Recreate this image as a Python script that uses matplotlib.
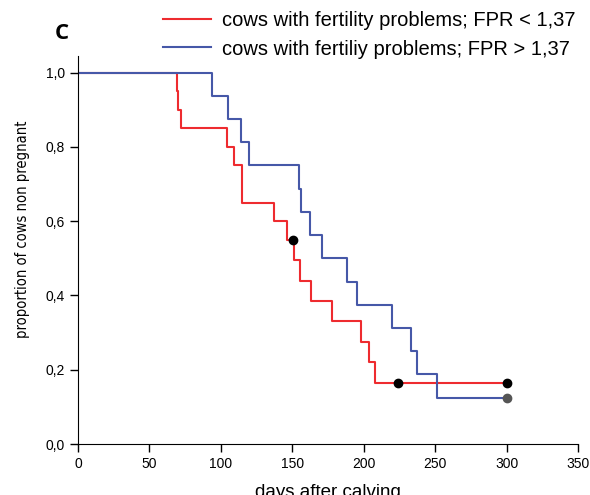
import matplotlib.pyplot as plt
from matplotlib import font_manager

# Kaplan-Meier curves
red_days = [0, 69.4, 70, 72, 104, 109, 115, 137, 146, 151.5, 155.5, 163, 178, 198, 204, 208, 300]
red_prop = [1.0, 0.95, 0.90, 0.85, 0.80, 0.75, 0.65, 0.60, 0.55, 0.495, 0.44, 0.385, 0.33, 0.275, 0.22, 0.165, 0.165]
red_cens_days = [150.5, 224, 300]
red_cens_prop = [0.55, 0.165, 0.165]

blue_days = [0, 94, 105, 114, 120, 154.5, 156, 162.5, 170.5, 188, 195.5, 219.5, 233, 237, 251.5, 300]
blue_prop = [1.0, 0.9375, 0.875, 0.8125, 0.75, 0.6875, 0.625, 0.5625, 0.5, 0.4375, 0.375, 0.3125, 0.25, 0.1875, 0.125, 0.125]
blue_cens_days = [300]
blue_cens_prop = [0.125]

x_ticks = [0, 50, 100, 150, 200, 250, 300, 350]
y_ticks = [0.0, 0.2, 0.4, 0.6, 0.8, 1.0]
y_labels = ["0,0", "0,2", "0,4", "0,6", "0,8", "1,0"]

red = "#ee2b2f"
blue = "#4658a8"

plt.rcParams["font.family"] = ["Liberation Sans", "DejaVu Sans"]

# the y label is set in a narrow face in the original; use one if installed
narrow = None
for f in font_manager.fontManager.ttflist:
    if f.style != "normal" or f.weight not in (400, "normal", "regular"):
        continue
    if "Narrow" in f.name or "Condensed" in f.name or f.stretch in ("condensed", "semi-condensed"):
        narrow = f.fname
        break
if narrow:
    ylab_font = font_manager.FontProperties(fname=narrow, size=10.5)
else:
    ylab_font = font_manager.FontProperties(family="Liberation Sans", size=9)

fig = plt.figure(figsize=(5.9, 4.95), dpi=100)
ax = fig.add_axes([0.132, 0.103, 0.848, 0.784])

ax.step(red_days, red_prop, where="post", color=red, lw=1.5,
        label="cows with fertility problems; FPR < 1,37")
ax.step(blue_days, blue_prop, where="post", color=blue, lw=1.5,
        label="cows with fertiliy problems; FPR > 1,37")
ax.plot(red_cens_days, red_cens_prop, "o", color="black", ms=6, zorder=5)
ax.plot(blue_cens_days, blue_cens_prop, "o", color="#555555", ms=6, zorder=5)

ax.set_xlim(0, 350)
ax.set_ylim(0, 1.045)
ax.set_xticks(x_ticks)
ax.set_yticks(y_ticks)
ax.set_yticklabels(y_labels)
ax.tick_params(labelsize=10, length=6, width=1, direction="out")
for s in ["top", "right"]:
    ax.spines[s].set_visible(False)

ax.set_xlabel("days after calving", fontsize=13.5, labelpad=9)
ax.set_ylabel("proportion of cows non pregnant", fontproperties=ylab_font)
ax.yaxis.set_label_coords(-0.096, 0.554)

fig.legend(loc="upper left", bbox_to_anchor=(0.2695, 0.985), frameon=False,
           fontsize=14.5, handlelength=2.4, handletextpad=0.55,
           labelspacing=0.45, borderaxespad=0, borderpad=0.2)
fig.text(0.093, 0.933, "C", fontsize=16, fontweight="bold", family="Open Sans",
         ha="left", va="center")

plt.savefig("out.png", dpi=100)
